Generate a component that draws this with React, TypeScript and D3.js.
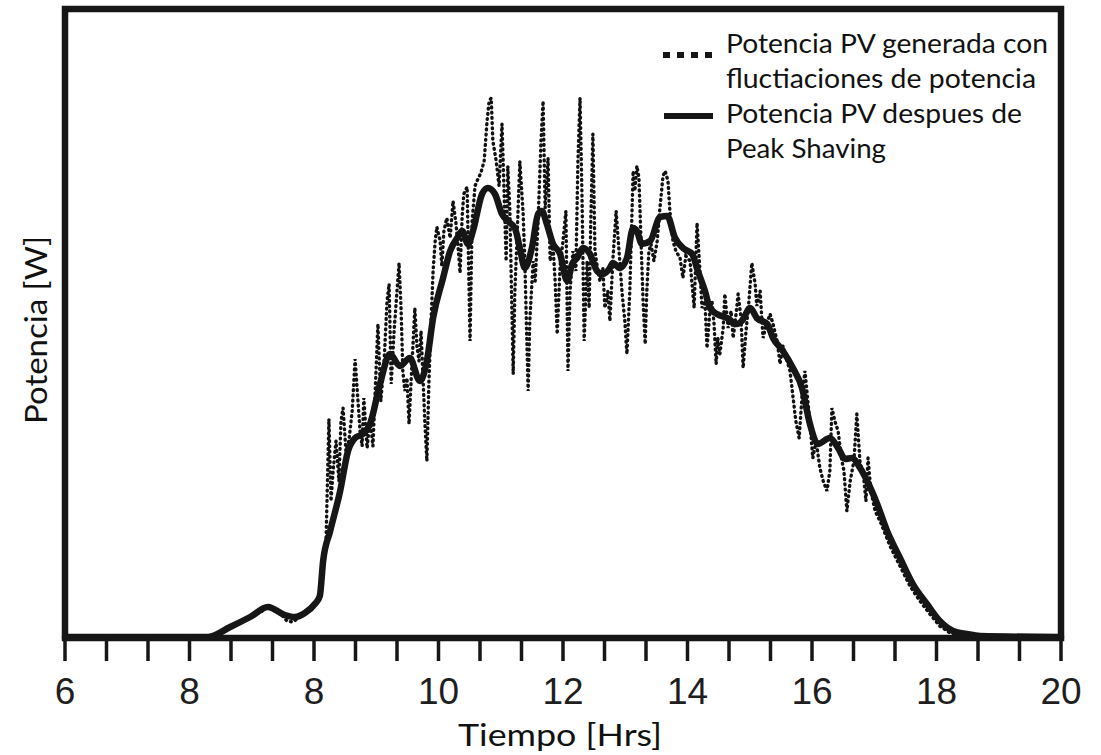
import React, { useEffect, useRef } from 'react';
import * as d3 from 'd3';

// x in axis tick steps (24 steps, a label every 3), y in W
const tickLabels = ['6', '8', '8', '10', '12', '14', '16', '18', '20'];

const shavedX = [0, 3.45, 3.98, 4.46, 4.89, 5.30, 5.54, 5.78, 6.02, 6.14, 6.22, 6.39, 6.63, 6.82, 6.99, 7.18, 7.35, 7.59, 7.83, 8.07, 8.31, 8.55, 8.72, 8.87, 9.11, 9.28, 9.45, 9.57, 9.71, 9.83, 10.05, 10.19, 10.36, 10.53, 10.67, 10.84, 10.96, 11.08, 11.25, 11.40, 11.49, 11.61, 11.76, 11.93, 12.10, 12.22, 12.34, 12.48, 12.65, 12.82, 12.96, 13.13, 13.20, 13.37, 13.54, 13.69, 13.78, 13.90, 14.10, 14.34, 14.51, 14.70, 14.89, 15.11, 15.25, 15.42, 15.54, 15.71, 15.95, 16.19, 16.31, 16.51, 16.67, 16.92, 17.06, 17.30, 17.54, 17.76, 17.95, 18.14, 18.43, 18.63, 18.80, 18.96, 19.16, 19.33, 19.57, 19.81, 20.12, 20.43, 20.77, 21.08, 21.40, 21.73, 22.05, 24];
const shavedY = [0, 0, 20, 40, 60, 44, 40, 48, 66, 82, 152, 212, 292, 372, 398, 406, 426, 506, 566, 542, 558, 512, 552, 638, 718, 772, 798, 812, 786, 812, 886, 898, 886, 846, 832, 818, 778, 738, 778, 846, 852, 826, 786, 766, 712, 746, 758, 778, 766, 732, 726, 738, 748, 738, 758, 818, 812, 786, 792, 840, 842, 798, 778, 766, 732, 692, 658, 646, 638, 626, 632, 658, 638, 626, 598, 572, 538, 498, 426, 386, 398, 378, 356, 358, 338, 312, 266, 212, 158, 106, 66, 32, 12, 6, 2, 0];

const rawX = [0, 3.45, 3.98, 4.46, 4.75, 4.89, 4.99, 5.18, 5.35, 5.49, 5.66, 5.90, 6.10, 6.19, 6.29, 6.36, 6.41, 6.46, 6.53, 6.60, 6.65, 6.70, 6.77, 6.84, 6.92, 6.99, 7.06, 7.11, 7.16, 7.20, 7.28, 7.35, 7.42, 7.47, 7.54, 7.61, 7.69, 7.76, 7.81, 7.86, 7.93, 8.00, 8.05, 8.10, 8.14, 8.19, 8.24, 8.29, 8.34, 8.39, 8.43, 8.48, 8.53, 8.58, 8.63, 8.67, 8.72, 8.77, 8.82, 8.87, 8.92, 8.96, 9.04, 9.08, 9.13, 9.20, 9.28, 9.35, 9.42, 9.47, 9.52, 9.57, 9.61, 9.69, 9.76, 9.81, 9.88, 9.95, 10.02, 10.10, 10.17, 10.22, 10.27, 10.31, 10.39, 10.46, 10.53, 10.58, 10.63, 10.67, 10.72, 10.80, 10.84, 10.89, 10.96, 11.04, 11.08, 11.16, 11.20, 11.28, 11.33, 11.40, 11.47, 11.52, 11.57, 11.64, 11.69, 11.76, 11.81, 11.86, 11.93, 12.00, 12.07, 12.12, 12.17, 12.24, 12.31, 12.36, 12.41, 12.46, 12.51, 12.58, 12.63, 12.67, 12.72, 12.77, 12.84, 12.89, 12.96, 13.01, 13.08, 13.13, 13.20, 13.28, 13.35, 13.42, 13.49, 13.54, 13.61, 13.69, 13.73, 13.78, 13.83, 13.88, 13.93, 13.98, 14.02, 14.07, 14.12, 14.19, 14.27, 14.34, 14.41, 14.46, 14.53, 14.58, 14.65, 14.72, 14.82, 14.89, 14.96, 15.06, 15.11, 15.16, 15.23, 15.30, 15.35, 15.42, 15.47, 15.54, 15.59, 15.64, 15.69, 15.73, 15.78, 15.86, 15.90, 15.98, 16.05, 16.10, 16.17, 16.22, 16.29, 16.34, 16.41, 16.48, 16.55, 16.63, 16.67, 16.75, 16.82, 16.89, 16.99, 17.06, 17.16, 17.23, 17.30, 17.40, 17.47, 17.54, 17.61, 17.69, 17.76, 17.83, 17.90, 17.98, 18.02, 18.10, 18.19, 18.27, 18.36, 18.43, 18.48, 18.55, 18.63, 18.70, 18.77, 18.84, 18.92, 19.01, 19.08, 19.16, 19.23, 19.30, 19.35, 19.42, 19.52, 19.64, 19.88, 20.12, 20.36, 20.60, 20.84, 21.08, 21.33, 21.57, 21.93, 24];
const rawY = [0, 0, 18, 38, 52, 62, 54, 48, 32, 30, 40, 56, 76, 102, 192, 436, 272, 332, 392, 312, 432, 458, 372, 392, 452, 556, 472, 412, 382, 478, 378, 438, 382, 482, 626, 472, 552, 672, 706, 506, 612, 692, 748, 652, 532, 492, 518, 426, 512, 592, 658, 582, 552, 612, 512, 432, 352, 512, 632, 732, 792, 820, 792, 742, 812, 838, 798, 872, 828, 782, 728, 842, 886, 900, 592, 832, 902, 916, 928, 952, 1032, 1072, 1078, 992, 952, 902, 1026, 892, 752, 942, 852, 526, 692, 792, 952, 846, 752, 492, 632, 752, 712, 832, 992, 1072, 858, 958, 752, 782, 712, 606, 742, 792, 852, 532, 692, 772, 732, 952, 1078, 872, 592, 752, 658, 832, 1006, 772, 732, 712, 738, 658, 692, 632, 752, 852, 772, 692, 632, 566, 692, 932, 892, 942, 918, 792, 672, 586, 692, 772, 786, 752, 792, 862, 922, 932, 912, 846, 792, 772, 758, 718, 762, 752, 706, 658, 828, 732, 658, 672, 578, 652, 672, 626, 546, 598, 566, 618, 686, 618, 652, 598, 646, 686, 638, 538, 612, 672, 748, 706, 662, 692, 598, 622, 646, 626, 592, 546, 582, 552, 532, 482, 432, 398, 482, 532, 472, 398, 358, 392, 338, 312, 292, 332, 458, 432, 412, 362, 332, 252, 312, 352, 446, 346, 332, 272, 358, 292, 252, 232, 182, 142, 102, 72, 46, 22, 8, 4, 0, 0];

const legendLines = ['Potencia PV generada con', 'fluctiaciones de potencia', 'Potencia PV despues de', 'Peak Shaving'];
const legendWidths = [322, 310, 296, 160];

const W = 1101;
const H = 755;
const left = 65;
const right = 1061;
const top = 12;
const bottom = 637;
const ink = '#161616';

const App: React.FC = () => {
  const svgRef = useRef<SVGSVGElement>(null);

  useEffect(() => {
    if (!svgRef.current) return;
    const svg = d3.select(svgRef.current);
    svg.selectAll('*').remove();

    const x = d3.scaleLinear().domain([0, 24]).range([left, right]);
    const y = d3.scaleLinear().domain([0, 1250]).range([bottom, top]);

    const raw = rawX.map((d, i) => [d, rawY[i]] as [number, number]);
    const shaved = shavedX.map((d, i) => [d, shavedY[i]] as [number, number]);

    // fluctuating series (dotted)
    svg.append('path')
      .datum(raw)
      .attr('fill', 'none')
      .attr('stroke', '#111')
      .attr('stroke-width', 3.4)
      .attr('stroke-linecap', 'round')
      .attr('stroke-dasharray', '0.8 4.4')
      .attr('d', d3.line().x(d => x(d[0])).y(d => y(d[1])) as any);

    // peak-shaved series
    svg.append('path')
      .datum(shaved)
      .attr('fill', 'none')
      .attr('stroke', ink)
      .attr('stroke-width', 6.5)
      .attr('stroke-linejoin', 'round')
      .attr('stroke-linecap', 'round')
      .attr('d', d3.line().x(d => x(d[0])).y(d => y(d[1])).curve(d3.curveMonotoneX) as any);

    // frame
    svg.append('rect')
      .attr('x', x(0))
      .attr('y', y(1250) - 3)
      .attr('width', x(24) - x(0))
      .attr('height', y(0) - y(1250) + 4)
      .attr('fill', 'none')
      .attr('stroke', ink)
      .attr('stroke-width', 6.5);

    // ticks
    const ticks = d3.range(0, 25);
    svg.append('g')
      .selectAll('line')
      .data(ticks)
      .enter()
      .append('line')
      .attr('x1', d => x(d))
      .attr('x2', d => x(d))
      .attr('y1', bottom)
      .attr('y2', 661)
      .attr('stroke', ink)
      .attr('stroke-width', 3.5);

    svg.append('g')
      .selectAll('text')
      .data(tickLabels)
      .enter()
      .append('text')
      .attr('x', (_, i) => x(i * 3))
      .attr('y', 704)
      .attr('text-anchor', 'middle')
      .attr('font-family', '"Liberation Sans", Arial, sans-serif')
      .attr('font-size', 37)
      .attr('fill', '#1e1e1e')
      .text(d => d);

    svg.append('text')
      .attr('x', 560)
      .attr('y', 746)
      .attr('text-anchor', 'middle')
      .attr('font-family', 'Lato, sans-serif')
      .attr('font-size', 31)
      .attr('textLength', 204)
      .attr('lengthAdjust', 'spacingAndGlyphs')
      .attr('fill', '#111')
      .text('Tiempo [Hrs]');

    svg.append('text')
      .attr('transform', 'translate(47,330) rotate(-90)')
      .attr('text-anchor', 'middle')
      .attr('font-family', 'Lato, sans-serif')
      .attr('font-size', 31)
      .attr('textLength', 188)
      .attr('lengthAdjust', 'spacingAndGlyphs')
      .attr('fill', '#111')
      .text('Potencia [W]');

    // legend
    const lg = svg.append('g');
    lg.append('line')
      .attr('x1', 663).attr('x2', 714).attr('y1', 55).attr('y2', 55)
      .attr('stroke', ink).attr('stroke-width', 6).attr('stroke-dasharray', '7 7');
    lg.append('line')
      .attr('x1', 664).attr('x2', 713).attr('y1', 116).attr('y2', 116)
      .attr('stroke', ink).attr('stroke-width', 6);
    lg.selectAll('text')
      .data(legendLines)
      .enter()
      .append('text')
      .attr('x', 726)
      .attr('y', (_, i) => 53 + i * 35)
      .attr('font-family', 'Lato, sans-serif')
      .attr('font-size', 26.5)
      .attr('textLength', (_, i) => legendWidths[i])
      .attr('lengthAdjust', 'spacingAndGlyphs')
      .attr('fill', '#111')
      .text(d => d);
  }, []);

  return (
    <svg
      ref={svgRef}
      width={W}
      height={H}
      style={{ position: 'absolute', left: 0, top: 0, background: '#fff' }}
    />
  );
};

export default App;
